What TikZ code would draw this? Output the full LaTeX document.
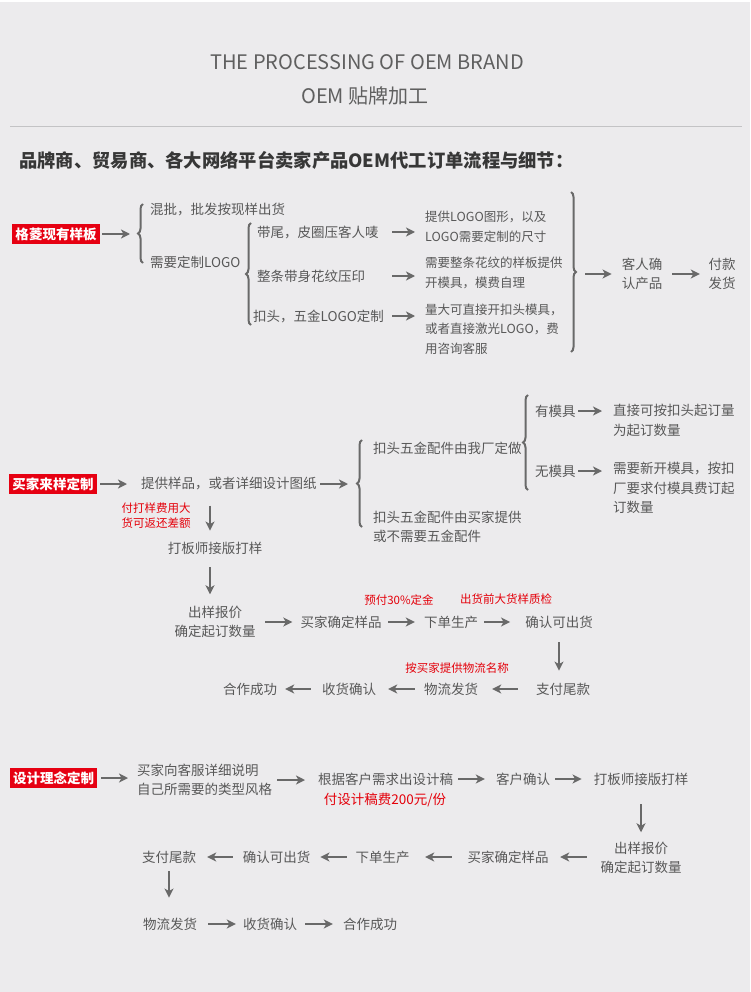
\documentclass[tikz,border=0pt]{standalone}
\usepackage{fontspec}
\usepackage{tikz}
\usetikzlibrary{arrows.meta, positioning, calc, decorations.pathreplacing}
\newfontfamily\cjk{Noto Sans CJK SC}
\definecolor{bgcolor}{RGB}{236,235,237}
\definecolor{txtcolor}{RGB}{88,88,88}
\definecolor{titlecolor}{RGB}{95,95,95}
\definecolor{headcolor}{RGB}{55,55,55}
\definecolor{rulecolor}{RGB}{195,195,197}
\definecolor{arrowcolor}{RGB}{105,105,105}
\definecolor{tagcolor}{RGB}{230,0,18}
\definecolor{notecolor}{RGB}{228,0,10}

\begin{document}
\begin{tikzpicture}[x=1pt, y=-1pt,
    txt/.style={inner sep=0pt, font=\cjk\fontsize{13.5}{19.5}\selectfont, text=txtcolor, align=left},
    ctxt/.style={txt, align=center},
    stxt/.style={txt, font=\cjk\fontsize{12.5}{19.5}\selectfont},
    note/.style={inner sep=0pt, font=\cjk\fontsize{11.5}{15}\selectfont, text=notecolor, align=left},
    tag/.style={fill=tagcolor, inner sep=0pt, minimum width=88pt, minimum height=20pt, text=white, font=\cjk\bfseries\fontsize{13.5}{16}\selectfont},
    arrow/.style={-{Stealth[length=9pt, width=9pt, inset=2.5pt]}, line width=2.6pt, draw=arrowcolor},
    brace/.style={decorate, decoration={brace, amplitude=5pt}, line width=2pt, draw=arrowcolor}
]
\useasboundingbox (0,0) rectangle (750,992);
\fill[bgcolor] (0,0) rectangle (750,992);
\fill[white] (0,0) rectangle (750,2);

\node[font=\cjk\fontsize{20}{24}\selectfont, text=titlecolor] (title) at (367,62) {THE PROCESSING OF OEM BRAND};
\node[font=\cjk\fontsize{20}{24}\selectfont, text=titlecolor] (subtitle) at (365,96) {OEM 贴牌加工};
\draw[rulecolor, line width=1pt] (10,127) -- (742,127);
\node[anchor=west, inner sep=0pt, font=\cjk\bfseries\fontsize{18.3}{22}\selectfont, text=headcolor] (head) at (19,160) {品牌商、贸易商、各大网络平台卖家产品OEM代工订单流程与细节：};

\node[tag] (tag1) at (56,234) {格菱现有样板};
\coordinate (fork1) at (137,234);
\draw[brace] (143,263) -- (143,204);
\node[txt, anchor=west] (whole) at (150,210) {混批，批发按现样出货};
\node[txt, anchor=west] (logo) at (150,262) {需要定制LOGO};
\draw[brace] (251,325) -- (251,223);
\node[txt, anchor=west] (tail) at (257,232) {带尾，皮圈压客人唛};
\node[txt, anchor=west] (strap) at (257,276) {整条带身花纹压印};
\node[txt, anchor=west] (buckle) at (253,316) {扣头，五金LOGO定制};
\node[stxt, anchor=west] (tailnote) at (425,227) {提供LOGO图形，以及\\LOGO需要定制的尺寸};
\node[stxt, anchor=west] (strapnote) at (425,273) {需要整条花纹的样板提供\\开模具，模费自理};
\node[stxt, anchor=west] (bucklenote) at (425,329) {量大可直接开扣头模具，\\或者直接激光LOGO，费\\用咨询客服};
\draw[brace] (571,192) -- (571,352);
\coordinate (join1) at (578,274);
\node[ctxt] (confirm1) at (642,274) {客人确\\认产品};
\node[ctxt] (ship1) at (722,274) {付款\\发货};

\draw[arrow, shorten <=2pt, shorten >=7pt] (tag1) -- (fork1);
\draw[arrow, shorten <=13.5pt, shorten >=10pt] (tail) -- (tail -| tailnote.west);
\draw[arrow, shorten <=27pt, shorten >=10pt] (strap) -- (strap -| strapnote.west);
\draw[arrow, shorten <=8pt, shorten >=10pt] (buckle) -- (buckle -| bucklenote.west);
\draw[arrow, shorten <=7pt, shorten >=10pt] (join1) -- (join1 -| confirm1.west);
\draw[arrow, shorten <=10pt, shorten >=8.5pt] (confirm1) -- (ship1);

\node[tag] (tag2) at (53,484) {买家来样定制};
\node[txt, anchor=west] (sample) at (141,484) {提供样品，或者详细设计图纸};
\coordinate (fork3) at (355,484);
\draw[brace] (362,527) -- (362,440);
\node[txt, anchor=west] (ours) at (373,448) {扣头五金配件由我厂定做};
\node[txt, anchor=west] (theirs) at (373,527) {扣头五金配件由买家提供\\或不需要五金配件};
\draw[brace] (528,490) -- (528,395);
\node[txt, anchor=west] (hasmold) at (535,411) {有模具};
\node[txt, anchor=west] (nomold) at (535,471) {无模具};
\node[txt, anchor=west] (hasnote) at (613,420.5) {直接可按扣头起订量\\为起订数量};
\node[txt, anchor=west] (nonote) at (613,488) {需要新开模具，按扣\\厂要求付模具费订起\\订数量};
\node[note] (fee) at (156,516) {付打样费用大\\货可返还差额};
\node[ctxt] (proof) at (215,548) {打板师接版打样};
\node[ctxt] (quote) at (215,622) {出样报价\\确定起订数量};
\node[ctxt] (pick) at (341,622) {买家确定样品};
\node[ctxt] (produce) at (451,622) {下单生产};
\node[ctxt] (release) at (559,622) {确认可出货};
\node[note] (deposit) at (399,600) {预付30\%定金};
\node[note] (inspect) at (506,599) {出货前大货样质检};
\node[ctxt] (balance) at (563,689) {支付尾款};
\node[ctxt] (logistics) at (451,689) {物流发货};
\node[note] (carrier) at (457,668) {按买家提供物流名称};
\node[ctxt] (receive) at (349,689) {收货确认};
\node[ctxt] (done) at (250,689) {合作成功};

\draw[arrow, shorten <=3pt, shorten >=14pt] (tag2) -- (tag2 -| sample.west);
\draw[arrow, shorten <=3.5pt, shorten >=7pt] (sample) -- (fork3);
\draw[arrow, shorten <=2.5pt, shorten >=11pt] (hasmold) -- (hasmold -| hasnote.west);
\draw[arrow, shorten <=2.5pt, shorten >=11pt] (nomold) -- (nomold -| nonote.west);
\draw[arrow, shorten <=15pt, shorten >=11pt] ($(proof.north |- sample.south)+(-5,0)$) -- ($(proof.north)+(-5,0)$);
\draw[arrow, shorten <=13pt, shorten >=11.5pt] ($(proof.south)+(-5,0)$) -- ($(proof.south |- quote.north)+(-5,0)$);
\draw[arrow, shorten <=9.5pt, shorten >=8pt] (quote) -- (pick);
\draw[arrow, shorten <=6.5pt, shorten >=9pt] (pick) -- (produce);
\draw[arrow, shorten <=6pt, shorten >=15pt] (produce) -- (release);
\draw[arrow, shorten <=14pt, shorten >=12pt] (release) -- (release |- balance.north);
\draw[arrow, shorten <=18pt, shorten >=14pt] (balance) -- (logistics);
\draw[arrow, shorten <=9pt, shorten >=12pt] (logistics) -- (receive);
\draw[arrow, shorten <=11pt, shorten >=8pt] (receive) -- (done);

\node[tag, minimum width=87pt] (tag3) at (53.5,778) {设计理念定制};
\node[txt, anchor=west] (brief) at (137,780) {买家向客服详细说明\\自己所需要的类型风格};
\node[txt, anchor=west] (draft) at (318,779) {根据客户需求出设计稿};
\node[note, font=\cjk\fontsize{13.5}{16}\selectfont] (draftfee) at (385,800) {付设计稿费200元/份};
\node[ctxt] (approve) at (523,779) {客户确认};
\node[ctxt] (proof2) at (641,779) {打板师接版打样};
\node[ctxt] (quote2) at (641,858) {出样报价\\确定起订数量};
\node[ctxt] (pick2) at (508,857) {买家确定样品};
\node[ctxt] (produce2) at (382.5,857) {下单生产};
\node[ctxt] (release2) at (276.5,857) {确认可出货};
\node[ctxt] (balance2) at (169,857) {支付尾款};
\node[ctxt] (logistics2) at (170,924) {物流发货};
\node[ctxt] (receive2) at (270,924) {收货确认};
\node[ctxt] (done2) at (370,924) {合作成功};

\draw[arrow, shorten <=4pt, shorten >=9pt] (tag3) -- (tag3 -| brief.west);
\draw[arrow, shorten <=5pt, shorten >=13pt] (brief) -- (brief -| draft.west);
\draw[arrow, shorten <=5pt, shorten >=11pt] (draft) -- (approve);
\draw[arrow, shorten <=5pt, shorten >=12pt] (approve) -- (proof2);
\draw[arrow, shorten <=19pt, shorten >=9.5pt] (proof2) -- (proof2 |- quote2.north);
\draw[arrow, shorten <=13.5pt, shorten >=11.5pt] (quote2.west |- pick2) -- (pick2);
\draw[arrow, shorten <=15.5pt, shorten >=15.5pt] (pick2) -- (produce2);
\draw[arrow, shorten <=8.5pt, shorten >=10pt] (produce2) -- (release2);
\draw[arrow, shorten <=10pt, shorten >=11pt] (release2) -- (balance2);
\draw[arrow, shorten <=8pt, shorten >=20pt] (balance2) -- (balance2 |- logistics2.north);
\draw[arrow, shorten <=11pt, shorten >=7pt] (logistics2) -- (receive2);
\draw[arrow, shorten <=8pt, shorten >=10pt] (receive2) -- (done2);
\end{tikzpicture}
\end{document}
